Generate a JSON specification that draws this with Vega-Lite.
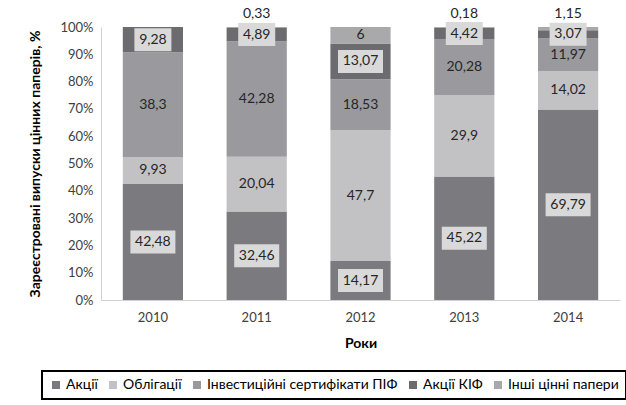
{
  "$schema": "https://vega.github.io/schema/vega-lite/v6.json",
  "width": 519,
  "height": 273,
  "autosize": {"type": "none"},
  "padding": {"left": 101, "top": 27, "right": 6, "bottom": 105},
  "background": "white",
  "config": {
    "font": "Lato",
    "view": {"stroke": null},
    "axis": {"labelColor": "#404040", "titleColor": "#000000", "domainColor": "#d0d0d0", "ticks": false, "grid": false, "labelFontSize": 13, "titleFontSize": 14, "titleFontWeight": "bold", "labelOverlap": false},
    "legend": {"strokeWidth": 2}
  },
  "data": {
    "values": [
      {"year": "2010", "series": "Акції", "value": 42.48},
      {"year": "2010", "series": "Облігації", "value": 9.93},
      {"year": "2010", "series": "Інвестиційні сертифікати ПІФ", "value": 38.3},
      {"year": "2010", "series": "Акції КІФ", "value": 9.28},
      {"year": "2011", "series": "Акції", "value": 32.46},
      {"year": "2011", "series": "Облігації", "value": 20.04},
      {"year": "2011", "series": "Інвестиційні сертифікати ПІФ", "value": 42.28},
      {"year": "2011", "series": "Акції КІФ", "value": 4.89},
      {"year": "2011", "series": "Інші цінні папери", "value": 0.33},
      {"year": "2012", "series": "Акції", "value": 14.17},
      {"year": "2012", "series": "Облігації", "value": 47.7},
      {"year": "2012", "series": "Інвестиційні сертифікати ПІФ", "value": 18.53},
      {"year": "2012", "series": "Акції КІФ", "value": 13.07},
      {"year": "2012", "series": "Інші цінні папери", "value": 6},
      {"year": "2013", "series": "Акції", "value": 45.22},
      {"year": "2013", "series": "Облігації", "value": 29.9},
      {"year": "2013", "series": "Інвестиційні сертифікати ПІФ", "value": 20.28},
      {"year": "2013", "series": "Акції КІФ", "value": 4.42},
      {"year": "2013", "series": "Інші цінні папери", "value": 0.18},
      {"year": "2014", "series": "Акції", "value": 69.79},
      {"year": "2014", "series": "Облігації", "value": 14.02},
      {"year": "2014", "series": "Інвестиційні сертифікати ПІФ", "value": 11.97},
      {"year": "2014", "series": "Акції КІФ", "value": 3.07},
      {"year": "2014", "series": "Інші цінні папери", "value": 1.15}
    ]
  },
  "transform": [
    {"calculate": "indexof(['Акції','Облігації','Інвестиційні сертифікати ПІФ','Акції КІФ','Інші цінні папери'], datum.series)", "as": "ord"},
    {"stack": "value", "groupby": ["year"], "sort": [{"field": "ord", "order": "ascending"}], "offset": "normalize", "as": ["y0", "y1"]},
    {"calculate": "(datum.y0 + datum.y1) / 2", "as": "mid"},
    {"calculate": "replace(toString(datum.value), '.', ',')", "as": "label"}
  ],
  "encoding": {
    "x": {
      "field": "year", "type": "nominal",
      "scale": {"paddingInner": 0.42, "paddingOuter": 0.21},
      "axis": {"title": "Роки", "labelAngle": 0, "labelPadding": 11, "titlePadding": 12}
    }
  },
  "layer": [
    {
      "mark": {"type": "bar"},
      "encoding": {
        "y": {"field": "y0", "type": "quantitative", "scale": {"domain": [0, 1]},
          "axis": {"title": "Зареєстровані випуски цінних паперів, %", "format": ".0%", "values": [0, 0.1, 0.2, 0.3, 0.4, 0.5, 0.6, 0.7, 0.8, 0.9, 1], "labelOverlap": false, "labelPadding": 8, "titlePadding": 17}},
        "y2": {"field": "y1"},
        "color": {
          "field": "series", "type": "nominal",
          "scale": {
            "domain": ["Акції", "Облігації", "Інвестиційні сертифікати ПІФ", "Акції КІФ", "Інші цінні папери"],
            "range": ["#7b7b7f", "#c2c2c5", "#9a9a9e", "#6c6c70", "#a9a9ac"]
          },
          "legend": {
            "title": null, "orient": "none", "legendX": -59, "legendY": 344,
            "direction": "horizontal", "strokeColor": "#000000", "padding": 7,
            "symbolType": "square", "symbolSize": 64, "symbolStrokeWidth": 0,
            "labelFontSize": 14, "labelColor": "#000000", "columnPadding": 8, "labelOffset": 3, "labelLimit": 400
          }
        }
      }
    },
    {
      "transform": [
        {"filter": "(datum.series == 'Акції' || datum.series == 'Акції КІФ') && length(datum.label) == 4"}
      ],
      "mark": {"type": "point", "shape": "M-1,-0.622L1,-0.622L1,0.622L-1,0.622Z", "filled": true, "color": "#d9d9da", "opacity": 1, "size": 1369},
      "encoding": {"y": {"field": "mid", "type": "quantitative", "axis": {"title": "Зареєстровані випуски цінних паперів, %", "format": ".0%", "values": [0, 0.1, 0.2, 0.3, 0.4, 0.5, 0.6, 0.7, 0.8, 0.9, 1], "labelOverlap": false, "labelPadding": 8, "titlePadding": 17}}}
    },
    {
      "transform": [
        {"filter": "(datum.series == 'Акції' || datum.series == 'Акції КІФ') && length(datum.label) == 5"}
      ],
      "mark": {"type": "point", "shape": "M-1,-0.511L1,-0.511L1,0.511L-1,0.511Z", "filled": true, "color": "#d9d9da", "opacity": 1, "size": 2025},
      "encoding": {"y": {"field": "mid", "type": "quantitative", "axis": {"title": "Зареєстровані випуски цінних паперів, %", "format": ".0%", "values": [0, 0.1, 0.2, 0.3, 0.4, 0.5, 0.6, 0.7, 0.8, 0.9, 1], "labelOverlap": false, "labelPadding": 8, "titlePadding": 17}}}
    },
    {
      "transform": [{"filter": "!(datum.series == 'Інші цінні папери' && datum.value < 2)"}],
      "mark": {"type": "text", "fontSize": 14, "color": "#262626"},
      "encoding": {"y": {"field": "mid", "type": "quantitative", "axis": {"title": "Зареєстровані випуски цінних паперів, %", "format": ".0%", "values": [0, 0.1, 0.2, 0.3, 0.4, 0.5, 0.6, 0.7, 0.8, 0.9, 1], "labelOverlap": false, "labelPadding": 8, "titlePadding": 17}}, "text": {"field": "label"}}
    },
    {
      "transform": [{"filter": "datum.series == 'Інші цінні папери' && datum.value < 2"}],
      "mark": {"type": "text", "fontSize": 14, "color": "#262626", "dy": -13},
      "encoding": {"y": {"field": "y1", "type": "quantitative", "axis": {"title": "Зареєстровані випуски цінних паперів, %", "format": ".0%", "values": [0, 0.1, 0.2, 0.3, 0.4, 0.5, 0.6, 0.7, 0.8, 0.9, 1], "labelOverlap": false, "labelPadding": 8, "titlePadding": 17}}, "text": {"field": "label"}}
    }
  ]
}
